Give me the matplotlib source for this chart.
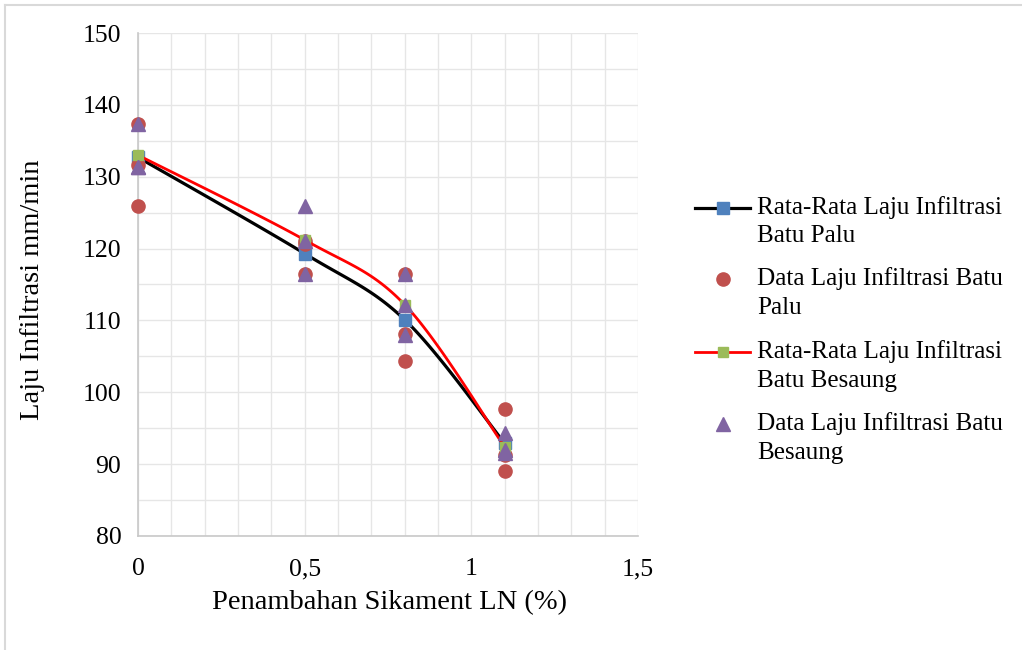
import numpy as np
import matplotlib
matplotlib.use("Agg")
import matplotlib.pyplot as plt
from matplotlib.lines import Line2D

plt.rcParams['font.family'] = ['Liberation Serif', 'DejaVu Serif']

# ---- data ----
x_levels = [0, 0.5, 0.8, 1.1]
palu_mean = [132.7, 119.3, 110.1, 92.9]
besaung_mean = [133.0, 121.2, 112.2, 92.4]
palu_x = [0, 0, 0, 0.5, 0.5, 0.5, 0.8, 0.8, 0.8, 1.1, 1.1, 1.1]
palu_data = [137.4, 131.6, 125.9, 121.1, 120.6, 116.5, 116.5, 108.1, 104.4, 97.7, 91.3, 89.1]
besaung_x = [0, 0, 0, 0.5, 0.5, 0.5, 0.8, 0.8, 0.8, 1.1, 1.1, 1.1]
besaung_data = [137.3, 131.3, 131.3, 125.9, 121.0, 116.5, 116.5, 112.2, 108.0, 94.4, 91.6, 92.0]

x_ticks = [0, 0.5, 1, 1.5]
x_ticklabels = ['0', '0,5', '1', '1,5']
y_ticks = [80, 90, 100, 110, 120, 130, 140, 150]

labels = ['Rata-Rata Laju Infiltrasi\nBatu Palu',
          'Data Laju Infiltrasi Batu\nPalu',
          'Rata-Rata Laju Infiltrasi\nBatu Besaung',
          'Data Laju Infiltrasi Batu\nBesaung']
x_title = 'Penambahan Sikament LN (%)'
y_title = 'Laju Infiltrasi mm/min'

BLUE = '#4F81BD'
RED = '#C0504D'
GREEN = '#9BBB59'
PURPLE = '#8064A2'

W, H = 1022, 650
fig = plt.figure(figsize=(W / 100, H / 100), dpi=100)
ax = fig.add_axes([138 / W, 1 - 536 / H, 500 / W, 503 / H])
ax.set_xlim(0, 1.5)
ax.set_ylim(80, 150)

# grid (major + minor, all light)
ax.set_xticks(np.arange(0, 1.51, 0.1), minor=True)
ax.set_yticks(np.arange(80, 151, 5), minor=True)
ax.set_xticks(x_ticks)
ax.set_xticklabels(x_ticklabels)
ax.set_yticks(y_ticks)
ax.grid(which='both', color='#E6E6E6', linewidth=1.0)
ax.set_axisbelow(True)
ax.tick_params(which='both', length=0)
ax.tick_params(axis='x', pad=16, labelsize=18.5)
ax.tick_params(axis='y', pad=12, labelsize=18.5)
for s in ['top', 'right']:
    ax.spines[s].set_visible(False)
for s in ['left', 'bottom']:
    ax.spines[s].set_color('#C8C8C8')
    ax.spines[s].set_linewidth(1.2)


def smooth(xs, ys):
    # Excel-like smoothed line: Bezier through points, computed in display space
    pts = ax.transData.transform(np.column_stack([xs, ys]))
    n = len(pts)
    out = []
    for i in range(n - 1):
        p0 = pts[i - 1] if i > 0 else pts[i]
        p1 = pts[i]
        p2 = pts[i + 1]
        p3 = pts[i + 2] if i + 2 < n else pts[i + 1]
        c1 = p1 + (p2 - p0) / 6.0
        c2 = p2 - (p3 - p1) / 6.0
        t = np.linspace(0, 1, 40)[:, None]
        seg = ((1 - t) ** 3) * p1 + 3 * ((1 - t) ** 2) * t * c1 + 3 * (1 - t) * t ** 2 * c2 + t ** 3 * p2
        out.append(seg if i == 0 else seg[1:])
    out = np.vstack(out)
    d = ax.transData.inverted().transform(out)
    return d[:, 0], d[:, 1]


sx, sy = smooth(x_levels, palu_mean)
ax.plot(sx, sy, color='black', lw=2.3, zorder=3, clip_on=False)
ax.plot(x_levels, palu_mean, ls='none', marker='s', ms=8, color=BLUE, mec=BLUE,
        zorder=4, clip_on=False)
ax.plot(palu_x, palu_data, ls='none', marker='o', ms=9.5, color=RED, mec=RED,
        zorder=5, clip_on=False)
sx2, sy2 = smooth(x_levels, besaung_mean)
ax.plot(sx2, sy2, color='#FF0000', lw=2.0, zorder=6, clip_on=False)
ax.plot(x_levels, besaung_mean, ls='none', marker='s', ms=7.5, color=GREEN, mec=GREEN,
        zorder=7, clip_on=False)
ax.plot(besaung_x, besaung_data, ls='none', marker='^', ms=10.5, color=PURPLE, mec=PURPLE,
        zorder=8, clip_on=False)

# axis titles
fig.text(390 / W, 1 - 603 / H, x_title, fontsize=20.5, ha='center', va='center')
fig.text(33 / W, 1 - 290 / H, y_title, fontsize=20.5, ha='center', va='center', rotation=90)

# legend (handles aligned with the first line of each label, as in the reference)
handle_styles = [
    dict(color='black', lw=2.3, marker='s', ms=8, mfc=BLUE, mec=BLUE),
    dict(ls='none', marker='o', ms=9.5, color=RED),
    dict(color='#FF0000', lw=2.0, marker='s', ms=7.5, mfc=GREEN, mec=GREEN),
    dict(ls='none', marker='^', ms=10.5, color=PURPLE),
]
row_y = [208, 279, 352, 424]
line_gap = 28.5
for lab, st, ry in zip(labels, handle_styles, row_y):
    yf = 1 - ry / H
    if st.get('ls') != 'none':
        fig.add_artist(Line2D([695 / W, 750 / W], [yf, yf], color=st['color'], lw=st['lw'],
                              transform=fig.transFigure))
        fig.add_artist(Line2D([722.5 / W], [yf], ls='none', marker=st['marker'], ms=st['ms'],
                              mfc=st['mfc'], mec=st['mec'], transform=fig.transFigure))
    else:
        fig.add_artist(Line2D([722.5 / W], [yf], ls='none', marker=st['marker'], ms=st['ms'],
                              color=st['color'], transform=fig.transFigure))
    for k, line in enumerate(lab.split('\n')):
        fig.text(757 / W, 1 - (ry + k * line_gap) / H, line, fontsize=18.1,
                 ha='left', va='center')

# chart area border (top and left visible)
fig.add_artist(Line2D([5 / W, 1021 / W], [1 - 5 / H, 1 - 5 / H], color='#D9D9D9', lw=1.5,
                      transform=fig.transFigure))
fig.add_artist(Line2D([5 / W, 5 / W], [1 - 5 / H, 0], color='#D9D9D9', lw=1.5,
                      transform=fig.transFigure))

fig.savefig('out.png', dpi=100, facecolor='white')
